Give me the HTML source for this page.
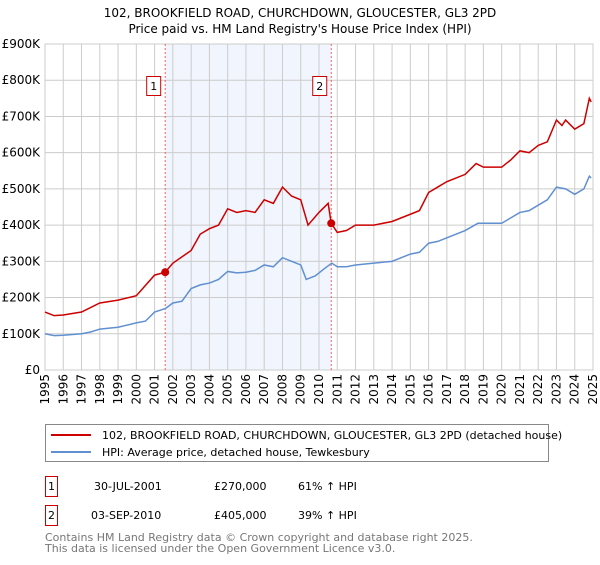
<!DOCTYPE html>
<html><head><meta charset="utf-8"><style>
body{margin:0;background:#fff;font-family:"Liberation Sans","DejaVu Sans",sans-serif;}
svg text{font-family:"DejaVu Sans","Liberation Sans",sans-serif;}
</style></head><body>
<svg id="c" width="600" height="560" xmlns="http://www.w3.org/2000/svg">
<text x="300" y="17" text-anchor="middle" font-size="12">102, BROOKFIELD ROAD, CHURCHDOWN, GLOUCESTER, GL3 2PD</text>
<text x="300" y="33" text-anchor="middle" font-size="12">Price paid vs. HM Land Registry's House Price Index (HPI)</text>
<g id="plot"></g>
<g>
<rect x="45.5" y="424.5" width="503" height="37" fill="#fff" stroke="#888"/>
<line x1="51" y1="435" x2="91" y2="435" stroke="#cc0000" stroke-width="2"/>
<text x="102" y="439" font-size="11">102, BROOKFIELD ROAD, CHURCHDOWN, GLOUCESTER, GL3 2PD (detached house)</text>
<line x1="51" y1="452" x2="91" y2="452" stroke="#6090d0" stroke-width="2"/>
<text x="102" y="456" font-size="11">HPI: Average price, detached house, Tewkesbury</text>
</g>
<g font-size="11">
<rect x="45.5" y="476.5" width="12" height="20" fill="#fff" stroke="#cc0000"/>
<text x="51.5" y="490" text-anchor="middle">1</text>
<text x="94" y="490">30-JUL-2001</text><text x="214" y="490">£270,000</text><text x="298" y="490">61% ↑ HPI</text>
<rect x="45.5" y="505.5" width="12" height="20" fill="#fff" stroke="#cc0000"/>
<text x="51.5" y="519" text-anchor="middle">2</text>
<text x="91" y="519">03-SEP-2010</text><text x="214" y="519">£405,000</text><text x="298" y="519">39% ↑ HPI</text>
</g>
<text x="45" y="541" font-size="11" fill="#777">Contains HM Land Registry data © Crown copyright and database right 2025.</text>
<text x="45" y="552" font-size="11" fill="#777">This data is licensed under the Open Government Licence v3.0.</text>
</svg>
<script>
const hpiX=[1995,1995.5,1996,1997,1997.5,1998,1999,2000,2000.5,2001,2001.6,2002,2002.5,2003,2003.5,2004,2004.5,2005,2005.5,2006,2006.5,2007,2007.5,2008,2008.5,2009,2009.3,2009.8,2010.3,2010.7,2011,2011.5,2012,2013,2014,2015,2015.5,2016,2016.5,2017,2018,2018.7,2019,2020,2020.5,2021,2021.5,2022,2022.5,2023,2023.5,2024,2024.5,2024.8,2024.9];
const hpiY=[100,95,96,100,105,113,118,130,135,160,170,185,190,225,235,240,250,272,268,270,275,290,285,310,300,290,250,260,280,295,285,285,290,295,300,320,325,350,355,365,385,405,405,405,420,435,440,455,470,505,500,485,500,535,530];
const priceX=[1995,1995.5,1996,1997,1998,1999,2000,2001,2001.58,2002,2003,2003.5,2004,2004.5,2005,2005.5,2006,2006.5,2007,2007.5,2008,2008.5,2009,2009.4,2010,2010.5,2010.67,2011,2011.5,2012,2013,2014,2015,2015.5,2016,2016.5,2017,2018,2018.6,2019,2020,2020.5,2021,2021.5,2022,2022.5,2023,2023.3,2023.5,2024,2024.5,2024.8,2024.9];
const priceY=[160,150,152,160,185,193,205,262,270,295,330,375,390,400,445,435,440,435,470,460,505,480,470,400,435,460,405,380,385,400,400,410,430,440,490,505,520,540,570,560,560,580,605,600,620,630,690,675,690,665,680,750,740];
const saleX=[2001.58,2010.67];
const saleY=[270,405];
const yTicks=[0,100,200,300,400,500,600,700,800,900];
const yLabels=["£0","£100K","£200K","£300K","£400K","£500K","£600K","£700K","£800K","£900K"];
const xYears=[1995,1996,1997,1998,1999,2000,2001,2002,2003,2004,2005,2006,2007,2008,2009,2010,2011,2012,2013,2014,2015,2016,2017,2018,2019,2020,2021,2022,2023,2024,2025];
const L=45,R=593,T=44,B=370;
const sx=v=>L+(v-1995)/30*(R-L);
const sy=v=>B-v/900*(B-T);
const NS="http://www.w3.org/2000/svg";
const g=document.getElementById('plot');
function mk(t,a,p){const e=document.createElementNS(NS,t);for(const k in a)e.setAttribute(k,a[k]);(p||g).appendChild(e);return e;}
const shade=mk('rect',{x:sx(saleX[0]),y:T,width:sx(saleX[1])-sx(saleX[0]),height:B-T,fill:'#eef3fc',opacity:0.8});


yTicks.forEach((v,i)=>{
 const l=mk('line',{x1:L,x2:R,y1:sy(v),y2:sy(v),stroke:'#ccc'});
 
 
 const t=mk('text',{x:L-5,y:sy(v)+4,'text-anchor':'end','font-size':12});
 t.textContent=yLabels[i];
 
 
});
xYears.forEach(v=>{
 const l=mk('line',{x1:sx(v),x2:sx(v),y1:T,y2:B,stroke:'#ccc'});
 
 
 const t=mk('text',{x:0,y:0,'text-anchor':'end','font-size':12,transform:`translate(${sx(v)+4},${B+4}) rotate(-90)`});
 t.textContent=v;
 
 
});
const ax=mk('rect',{x:L,y:T,width:R-L,height:B-T,fill:'none',stroke:'#ccc'});


saleX.forEach((v,i)=>{
 const l=mk('line',{x1:sx(v),x2:sx(v),y1:T,y2:B,stroke:'#f06060','stroke-dasharray':'2,2'});
 
 
 const r=mk('rect',{x:sx(v)-18.5,y:76.5,width:14,height:19,fill:'#fff',stroke:'#cc0000'});
 
 
 const t=mk('text',{x:sx(v)-11.5,y:90,'text-anchor':'middle','font-size':11});
 t.textContent=i+1;
 
 
});
const hp=mk('polyline',{points:hpiX.map((x,i)=>sx(x)+','+sy(hpiY[i])).join(' '),fill:'none',stroke:'#6090d0','stroke-width':1.5});


const pp=mk('polyline',{points:priceX.map((x,i)=>sx(x)+','+sy(priceY[i])).join(' '),fill:'none',stroke:'#cc0000','stroke-width':1.5});


saleX.forEach((v,i)=>{
 const c=mk('circle',{cx:sx(v),cy:sy(saleY[i]),r:4,fill:'#cc0000'});
 
 
});
</script>
</body></html>
